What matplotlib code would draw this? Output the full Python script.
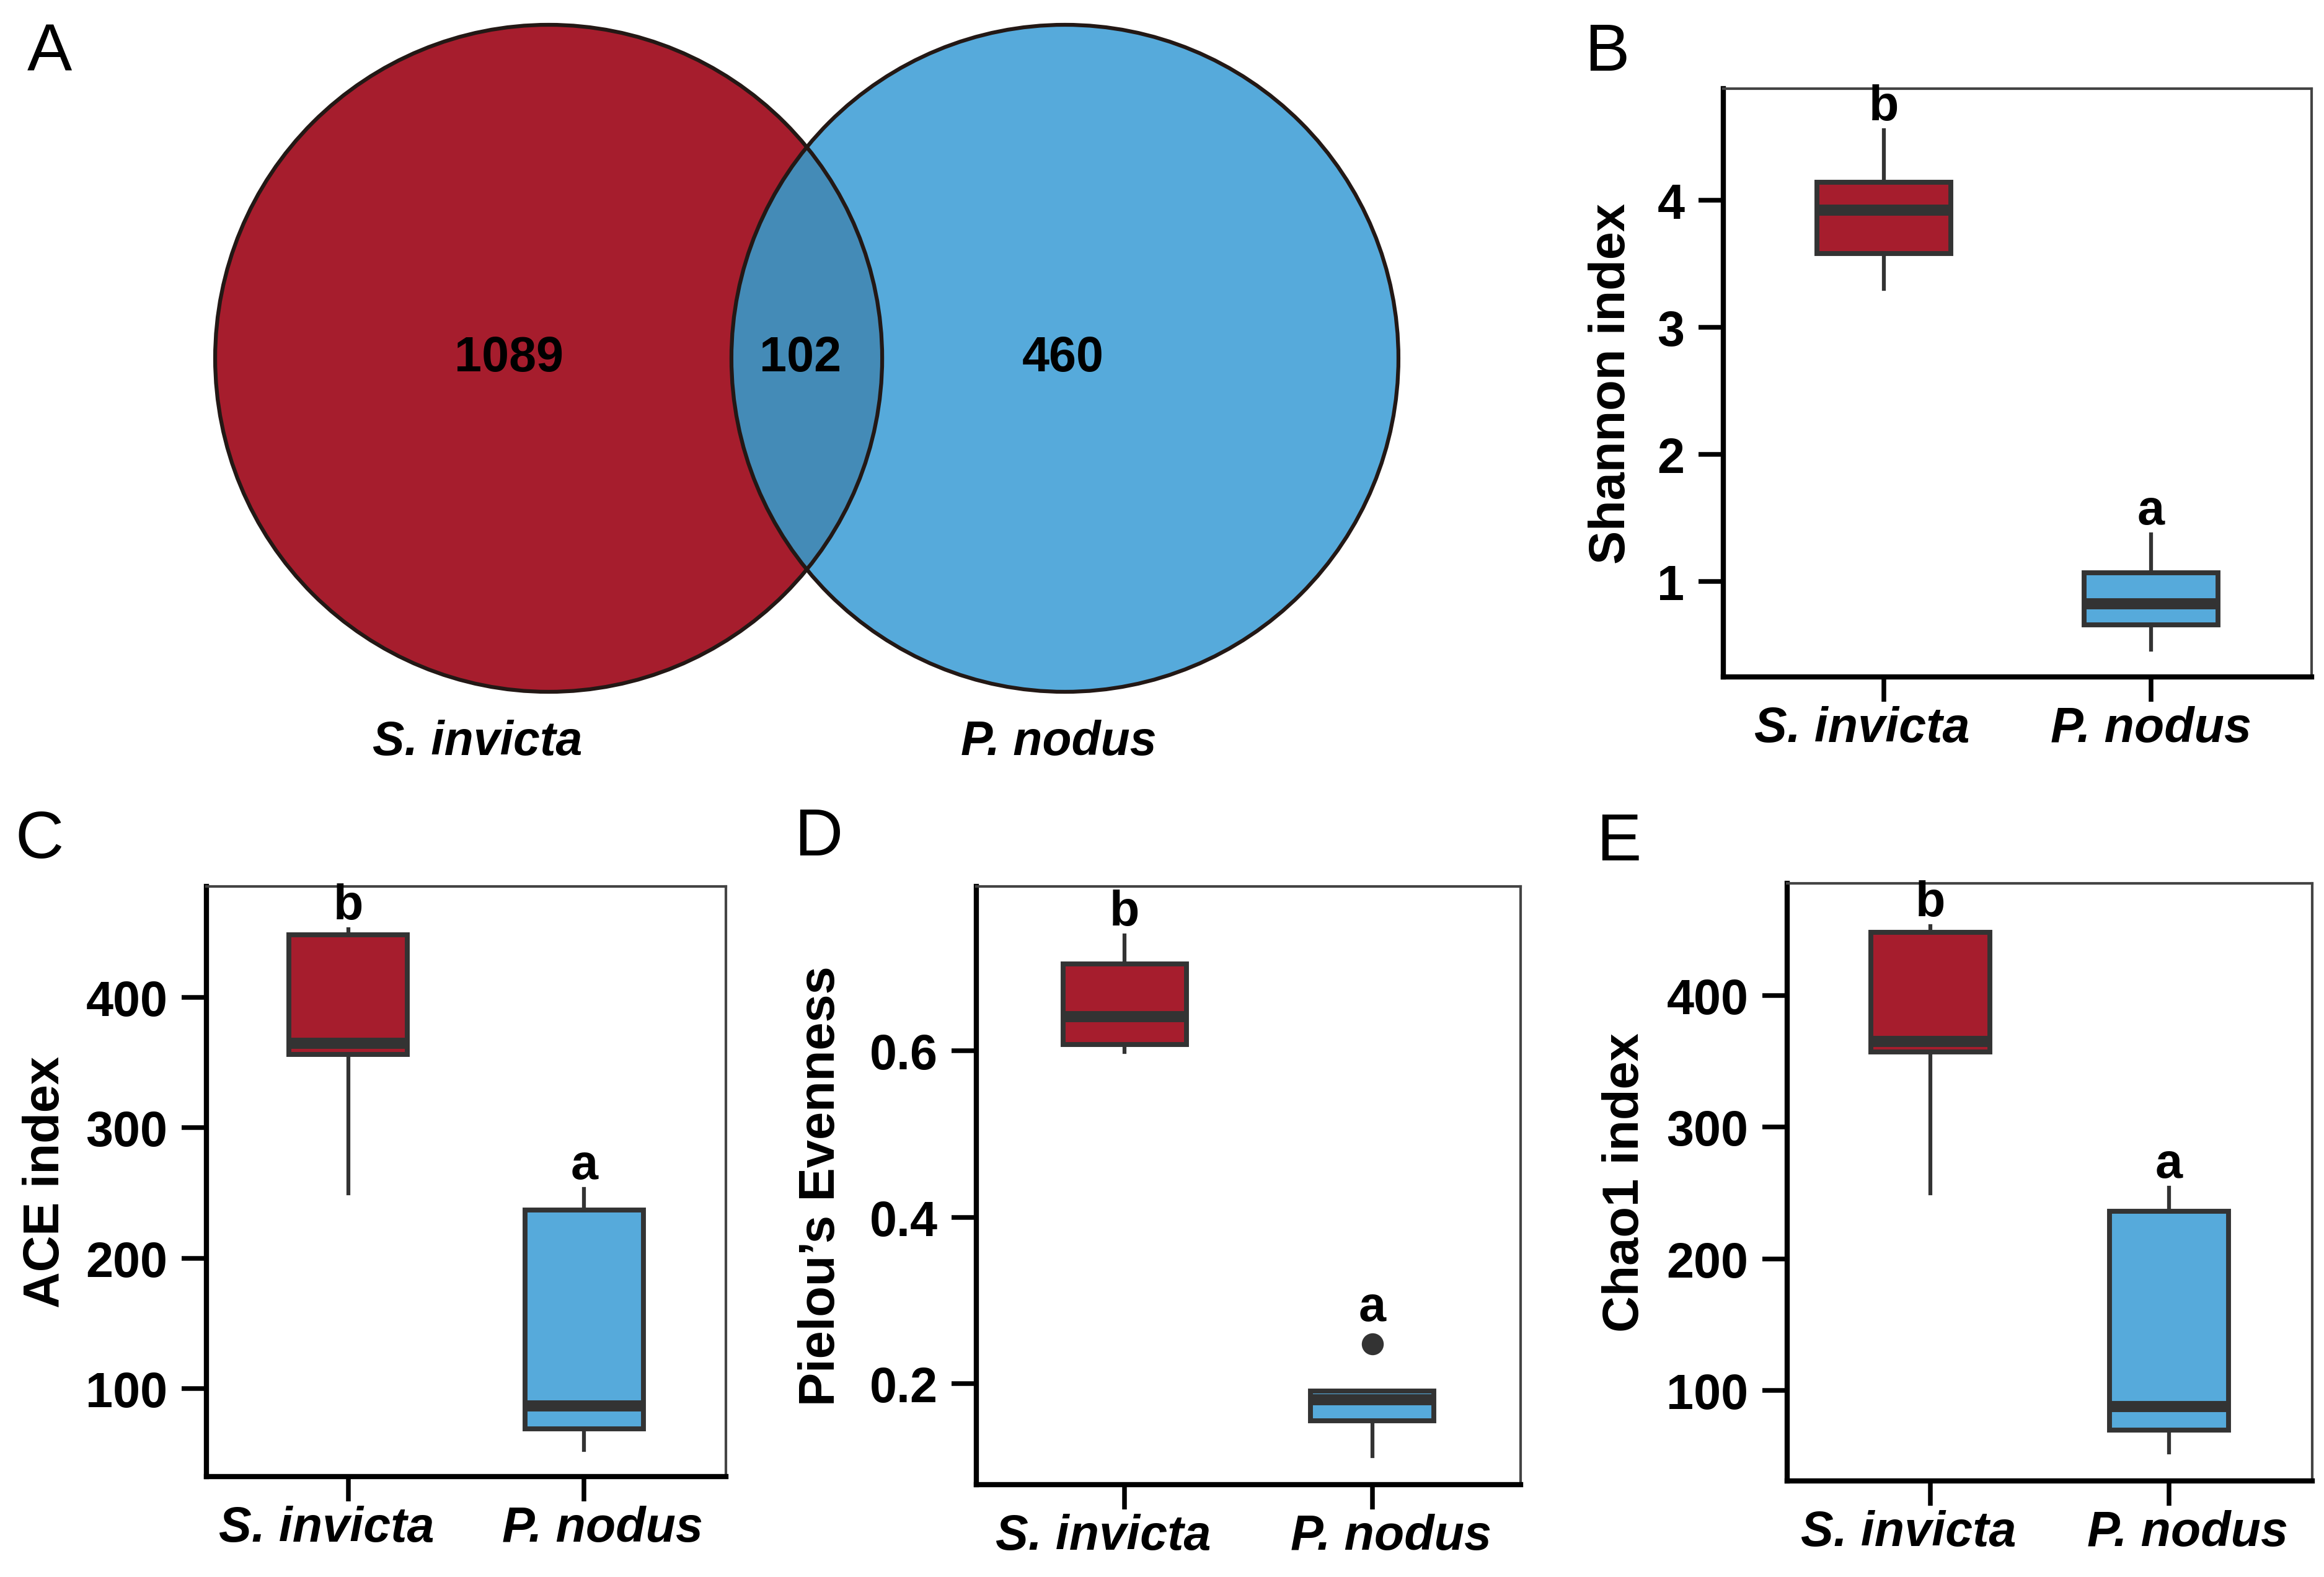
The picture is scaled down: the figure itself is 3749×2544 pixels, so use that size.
import matplotlib
matplotlib.use("Agg")
import matplotlib.pyplot as plt
from matplotlib.patches import Circle
from matplotlib.transforms import ScaledTranslation

plt.rcParams['font.family'] = ['Liberation Sans', 'DejaVu Sans']

W, H = 3749, 2545
DPI = 300

# ---------------- data ----------------
groups = ["S. invicta", "P. nodus"]
venn_only_si = 1089
venn_shared = 102
venn_only_pn = 460

# box statistics: whislo, q1, med, q3, whishi
shannon_si = [3.30, 3.58, 3.92, 4.14, 4.55]
shannon_pn = [0.465, 0.66, 0.825, 1.07, 1.37]
ace_si = [250, 356, 365, 448, 452]
ace_pn = [53, 69, 87, 237, 253]
pielou_si = [0.598, 0.607, 0.641, 0.704, 0.738]
pielou_pn = [0.113, 0.156, 0.181, 0.191, 0.191]
pielou_pn_fliers = [0.248]
chao1_si = [250, 357, 365, 448, 452.5]
chao1_pn = [53, 70, 88, 236, 254]
letters = ["b", "a"]

RED = '#A61D2D'
BLUE = '#56AADB'
OVER = '#448BB7'
EDGE = '#231815'
BOXEDGE = '#333333'


def px_rect(left, top, right, bottom):
    return [left / W, 1 - bottom / H, (right - left) / W, (bottom - top) / H]


fig = plt.figure(figsize=(W / DPI, H / DPI), dpi=DPI)

# ---------------- Venn (A) ----------------
r_px = 538.0
cx_px, cy_px = 1301.5, 579.0
xl, xr, yb, yt = -1.9, 1.9, -1.2, 1.07
axv = fig.add_axes(px_rect(cx_px + xl * r_px, cy_px - yt * r_px,
                           cx_px + xr * r_px, cy_px - yb * r_px))
axv.set_xlim(xl, xr)
axv.set_ylim(yb, yt)
axv.axis('off')
d = 0.774
c1 = Circle((-d, 0), 1, facecolor=RED, edgecolor='none', zorder=1)
c2 = Circle((d, 0), 1, facecolor=BLUE, edgecolor='none', zorder=2)
axv.add_patch(c1)
axv.add_patch(c2)
clipc = Circle((-d, 0), 1, transform=axv.transData)
ov = Circle((d, 0), 1, facecolor=OVER, edgecolor='none', zorder=3)
axv.add_patch(ov)
ov.set_clip_path(clipc)
for cx in (-d, d):
    axv.add_patch(Circle((cx, 0), 1, facecolor='none', edgecolor=EDGE, lw=1.5, zorder=4))
axv.text(-0.893, 0.0, str(venn_only_si), ha='center', va='center', fontsize=19, fontweight='bold', zorder=5)
axv.text(-0.02, 0.0, str(venn_shared), ha='center', va='center', fontsize=19, fontweight='bold', zorder=5)
axv.text(0.769, 0.0, str(venn_only_pn), ha='center', va='center', fontsize=19, fontweight='bold', zorder=5)
axv.text(-0.988, -1.15, groups[0], ha='center', va='center', fontsize=18.5, fontweight='bold', style='italic', clip_on=False)
axv.text(0.756, -1.15, groups[1], ha='center', va='center', fontsize=18.5, fontweight='bold', style='italic', clip_on=False)


# ---------------- box panels ----------------
def make_stats(v, fliers=()):
    return dict(whislo=v[0], q1=v[1], med=v[2], q3=v[3], whishi=v[4], fliers=list(fliers))


def box_panel(rect, si, pn, ylim, yticks, ylabel, label_x, pn_fliers=(), tick_fs=19,
              xlab_shift=(-35, 30)):
    ax = fig.add_axes(rect)
    stats = [make_stats(si), make_stats(pn, pn_fliers)]
    bp = ax.bxp(stats, positions=[0, 1], widths=0.5, showcaps=False, patch_artist=True,
                boxprops=dict(edgecolor=BOXEDGE, linewidth=1.9),
                whiskerprops=dict(color=BOXEDGE, linewidth=1.5),
                medianprops=dict(color=BOXEDGE, linewidth=4.3, solid_capstyle='butt'),
                flierprops=dict(marker='o', markerfacecolor=BOXEDGE, markeredgecolor=BOXEDGE,
                                markersize=7.5))
    for patch, col in zip(bp['boxes'], [RED, BLUE]):
        patch.set_facecolor(col)
    ax.set_xlim(-0.6, 1.6)
    ax.set_ylim(*ylim)
    ax.set_yticks(yticks)
    ax.set_yticklabels([('%g' % t) for t in yticks], fontsize=tick_fs, fontweight='bold')
    ax.set_xticks([0, 1])
    ax.set_xticklabels(groups, fontsize=19, fontweight='bold', style='italic')
    ax.tick_params(axis='both', direction='out', length=9.5, width=1.8, color='black')
    ax.tick_params(axis='x', pad=1.5)
    ax.tick_params(axis='y', pad=5.5)
    for tick, dx in zip(ax.xaxis.get_major_ticks(), xlab_shift):
        lbl = tick.label1
        lbl.set_transform(lbl.get_transform() + ScaledTranslation(dx / DPI, 0, fig.dpi_scale_trans))
    ax.set_ylabel(ylabel, fontsize=19.5, fontweight='bold')
    ax.yaxis.set_label_coords(label_x, 0.5)
    for s in ('left', 'bottom'):
        ax.spines[s].set_linewidth(2.0)
        ax.spines[s].set_color('black')
    for s in ('top', 'right'):
        ax.spines[s].set_linewidth(1.0)
        ax.spines[s].set_color('#444444')
    for i, (v, fl) in enumerate([(si, ()), (pn, pn_fliers)]):
        top = max([v[4]] + list(fl))
        off = 5 if fl else 0
        ax.annotate(letters[i], (i, top), xytext=(0, off), textcoords='offset points',
                    ha='center', va='bottom', fontsize=19, fontweight='bold', zorder=6)
    return ax


box_panel(px_rect(2780, 144, 3729, 1093), shannon_si, shannon_pn, (0.25, 4.875), [1, 2, 3, 4],
          'Shannon index', -0.150, xlab_shift=(-35, 0))
box_panel(px_rect(333, 1431, 1171, 2383), ace_si, ace_pn, (32.6, 485), [100, 200, 300, 400],
          'ACE index', -0.264)
box_panel(px_rect(1575, 1431, 2453, 2396), pielou_si, pielou_pn, (0.079, 0.797), [0.2, 0.4, 0.6],
          'Pielou\u2019s Evenness', -0.2415, pn_fliers=pielou_pn_fliers)
box_panel(px_rect(2883, 1426, 3730, 2390), chao1_si, chao1_pn, (31.4, 485.2), [100, 200, 300, 400],
          'Chao1 index', -0.263)

# ---------------- panel letters ----------------
for lab, (x, y) in zip("ABCDE", [(80, 86), (2592, 86), (64, 1356), (1320, 1352), (2611, 1360)]):
    fig.text(x / W, 1 - y / H, lab, ha='center', va='center', fontsize=26)

fig.savefig('out.png', dpi=DPI)
